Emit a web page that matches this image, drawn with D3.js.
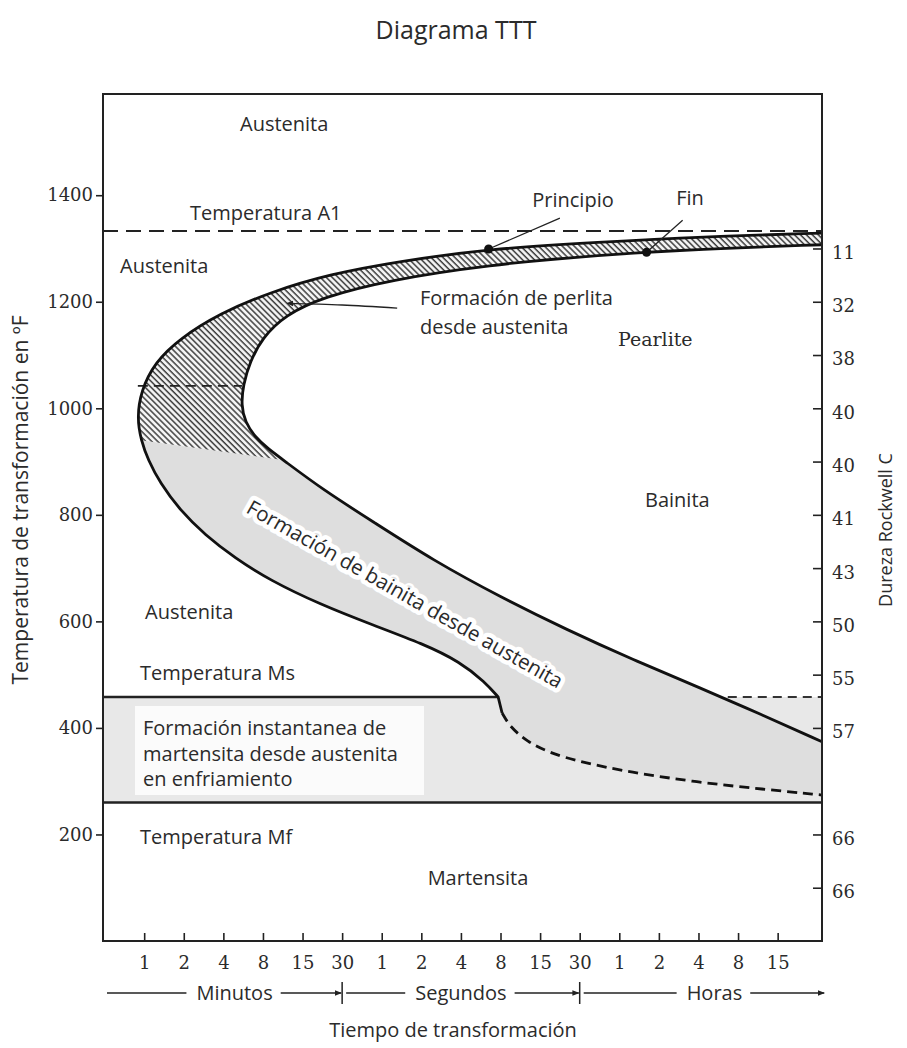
<!DOCTYPE html>
<html>
<head>
<meta charset="utf-8">
<script src="https://cdn.jsdelivr.net/npm/d3@7"></script>
<style>
  body { margin: 0; background: #fff; }
  text { fill: #2b2b2b; }
</style>
</head>
<body>
<svg id="chart" width="907" height="1048" font-family="'Open Sans', sans-serif"></svg>
<script>
// x is the step number along the time axis (ticks are evenly spaced), y is °F
const timeLabels = ["1","2","4","8","15","30","1","2","4","8","15","30","1","2","4","8","15"];
const tempTicks = [200, 400, 600, 800, 1000, 1200, 1400];
const hardTemps = [1300, 1200, 1100, 1000, 900, 800, 700, 600, 500, 400, 200, 100];
const hardLabels = ["11","32","38","40","40","41","43","50","55","57","66","66"];

const A1 = 1333, Ms = 458, Mf = 260, noseTemp = 1042;
// pearlite hatching stops along this edge (outer curve -> inner curve)
const hatchEdge = [[-0.08, 940], [3.51, 903]];

// start of transformation (outer curve), right end -> nose -> Ms
const startCurve = [
  [17.12, 1329], [14.04, 1322], [11.51, 1312], [8.66, 1299], [6.46, 1276],
  [4.69, 1252], [3.18, 1218], [1.91, 1178], [0.9, 1131], [0.27, 1086],
  [-0.08, 1033], [-0.18, 982], [-0.08, 940], [0.1, 903], [0.4, 860],
  [0.9, 809], [1.54, 762], [2.29, 719], [3.18, 677], [4.44, 632],
  [5.78, 593], [7.04, 558], [7.98, 524], [8.61, 486], [8.94, 458]
];
// continuation below Ms (dashed)
const startDashed = [
  [9.04, 428], [9.24, 402], [9.67, 374], [10.25, 353], [11.01, 336],
  [12.27, 317], [13.96, 298], [15.63, 285], [17.12, 274]
];
// end of transformation (inner curve)
const endCurve = [
  [17.12, 1307], [14.04, 1299], [11.51, 1288], [8.66, 1269], [6.21, 1241],
  [4.52, 1209], [3.56, 1175], [2.98, 1132], [2.67, 1087], [2.5, 1044],
  [2.45, 1006], [2.55, 974], [2.8, 946], [3.13, 924], [3.51, 903],
  [4.52, 847], [5.78, 787], [7.29, 715], [8.99, 646], [10.68, 584],
  [12.35, 528], [14.05, 475], [15.56, 426], [17.12, 374]
];

const principio = [8.7, 1299], principioTag = [10.5, 1357];
const fin = [12.69, 1293], finTag = [13.6, 1353];
const perlitaArrow = [[6.39, 1188], [5.0, 1194], [3.61, 1197]];

const units = [
  { name: "Minutos", from: -1.04, to: 5 },
  { name: "Segundos", from: 5, to: 11 },
  { name: "Horas", from: 11, to: 17.2 }
];

const serif = "'DejaVu Serif', serif";
const svg = d3.select("#chart");
const x = d3.scaleLinear().domain([-1.04, 17.12]).range([103, 822]);
const y = d3.scaleLinear().domain([0, 1590]).range([941, 94]);

const curve = d3.line().x(d => x(d[0])).y(d => y(d[1])).curve(d3.curveBasis);
const straight = d3.line().x(d => x(d[0])).y(d => y(d[1]));
const cont = p => curve(p).replace(/^M/, "L");

const defs = svg.append("defs");
defs.append("pattern")
  .attr("id", "hatch").attr("patternUnits", "userSpaceOnUse")
  .attr("width", 4.2).attr("height", 4.2)
  .attr("patternTransform", "rotate(-45)")
  .call(p => p.append("rect").attr("width", 4.2).attr("height", 4.2).attr("fill", "#f6f6f6"))
  .append("line").attr("x1", 1).attr("y1", 0).attr("x2", 1).attr("y2", 4.2)
  .attr("stroke", "#3c3c3c").attr("stroke-width", 1.5);
defs.append("marker")
  .attr("id", "arrow").attr("viewBox", "0 0 10 10")
  .attr("refX", 9).attr("refY", 5)
  .attr("markerWidth", 7).attr("markerHeight", 7)
  .attr("markerUnits", "userSpaceOnUse")
  .attr("orient", "auto")
  .append("path").attr("d", "M0,1 L10,5 L0,9 Z").attr("fill", "#222");

// clip for the hatching: everything above the hatch edge, extended across the plot
const [e0, e1] = hatchEdge.map(d => [x(d[0]), y(d[1])]);
const slope = (e1[1] - e0[1]) / (e1[0] - e0[0]);
defs.append("clipPath").attr("id", "hatchClip")
  .append("path")
  .attr("d", `M0,0 L907,0 L907,${e0[1] + slope * (907 - e0[0])} L0,${e0[1] - slope * e0[0]} Z`);

svg.append("rect").attr("width", 907).attr("height", 1048).attr("fill", "#fff");

// martensite band between Ms and Mf
svg.append("rect")
  .attr("x", x(-1.04)).attr("y", y(Ms))
  .attr("width", x(17.12) - x(-1.04)).attr("height", y(Mf) - y(Ms))
  .attr("fill", "#e8e8e8");
svg.append("rect")
  .attr("x", 135).attr("y", 706).attr("width", 289).attr("height", 89)
  .attr("fill", "#fbfbfb");

// transformation band: bainite fill, pearlite hatching on top
const band = curve(startCurve) + cont(startDashed) + cont(endCurve.slice().reverse()) + "Z";
svg.append("path").attr("d", band).attr("fill", "#dedede");
svg.append("path").attr("d", band).attr("fill", "url(#hatch)").attr("clip-path", "url(#hatchClip)");

// reference temperatures
svg.append("path").attr("d", straight([[-1.04, A1], [17.12, A1]]))
  .attr("stroke", "#222").attr("stroke-width", 2).attr("stroke-dasharray", "15,8").attr("fill", "none");
svg.append("path").attr("d", straight([[-0.16, noseTemp], [2.47, noseTemp]]))
  .attr("stroke", "#222").attr("stroke-width", 1.6).attr("stroke-dasharray", "10,6").attr("fill", "none");
svg.append("path").attr("d", straight([[-1.04, Ms], startCurve[startCurve.length - 1]]))
  .attr("stroke", "#222").attr("stroke-width", 2.5).attr("fill", "none");
svg.append("path").attr("d", straight([[14.74, Ms], [17.12, Ms]]))
  .attr("stroke", "#333").attr("stroke-width", 2).attr("stroke-dasharray", "9,6").attr("fill", "none");
svg.append("path").attr("d", straight([[-1.04, Mf], [17.12, Mf]]))
  .attr("stroke", "#222").attr("stroke-width", 2.5).attr("fill", "none");

// curves
svg.append("path")
  .attr("d", curve(startCurve) + "L" + x(startDashed[0][0]) + "," + y(startDashed[0][1]))
  .attr("stroke", "#111").attr("stroke-width", 2.8).attr("fill", "none");
svg.append("path").attr("d", curve(startDashed))
  .attr("stroke", "#111").attr("stroke-width", 2.8).attr("stroke-dasharray", "10,6").attr("fill", "none");
svg.append("path").attr("d", curve(endCurve))
  .attr("stroke", "#111").attr("stroke-width", 2.8).attr("fill", "none");

// Principio / Fin markers
[[principio, principioTag], [fin, finTag]].forEach(([p, t]) => {
  svg.append("path").attr("d", straight([p, t])).attr("stroke", "#222").attr("stroke-width", 1.3);
  svg.append("circle").attr("cx", x(p[0])).attr("cy", y(p[1])).attr("r", 4.5).attr("fill", "#111");
});
svg.append("path")
  .attr("d", d3.line().x(d => x(d[0])).y(d => y(d[1])).curve(d3.curveNatural)(perlitaArrow))
  .attr("stroke", "#222").attr("stroke-width", 1.4).attr("fill", "none")
  .attr("marker-end", "url(#arrow)");

// frame
svg.append("rect")
  .attr("x", x(-1.04)).attr("y", y(1590))
  .attr("width", x(17.12) - x(-1.04)).attr("height", y(0) - y(1590))
  .attr("fill", "none").attr("stroke", "#222").attr("stroke-width", 2);

// axes
const styleAxis = (g, size) => {
  g.attr("font-family", serif).attr("font-size", size);
  g.select(".domain").remove();
  g.selectAll("line").attr("stroke", "#222").attr("stroke-width", 1.6);
  g.selectAll("text").attr("fill", "#333");
};
svg.append("g").attr("transform", `translate(${x(-1.04)},0)`)
  .call(d3.axisLeft(y).tickValues(tempTicks).tickSize(7).tickPadding(3).tickFormat(d3.format("d")))
  .call(g => styleAxis(g, 18));
svg.append("g").attr("transform", `translate(${x(17.12)},0)`)
  .call(d3.axisRight(y).tickValues(hardTemps).tickSize(-9).tickPadding(10)
    .tickFormat((d, i) => hardLabels[i]))
  .call(g => styleAxis(g, 18))
  .call(g => g.selectAll("text").attr("dy", "0.55em"));
svg.append("g").attr("transform", `translate(0,${y(0)})`)
  .call(d3.axisBottom(x).tickValues(d3.range(timeLabels.length)).tickSize(-8).tickPadding(15)
    .tickFormat((d, i) => timeLabels[i]))
  .call(g => styleAxis(g, 18));

// unit row under the time axis
const rowY = 993;
units.forEach((u, i) => {
  const x0 = x(u.from), x1 = x(u.to), mid = (x0 + x1) / 2 + (i === 1 ? 0 : 12);
  const t = svg.append("text").attr("x", mid).attr("y", rowY + 7)
    .attr("text-anchor", "middle").attr("font-size", 20).text(u.name);
  const w = t.node().getComputedTextLength();
  svg.append("line").attr("x1", x0 + 4).attr("x2", mid - w / 2 - 10)
    .attr("y1", rowY).attr("y2", rowY).attr("stroke", "#222").attr("stroke-width", 1.5);
  svg.append("line").attr("x1", mid + w / 2 + 8).attr("x2", x1 - 1)
    .attr("y1", rowY).attr("y2", rowY).attr("stroke", "#222").attr("stroke-width", 1.5)
    .attr("marker-end", "url(#arrow)");
  if (i > 0) {
    svg.append("line").attr("x1", x0).attr("x2", x0).attr("y1", rowY - 11).attr("y2", rowY + 11)
      .attr("stroke", "#222").attr("stroke-width", 1.5);
  }
});

// region labels
const labels = [
  ["Austenita", 240, 131, "start"],
  ["Temperatura A1", 190, 220, "start"],
  ["Austenita", 120, 273, "start"],
  ["Principio", 573, 207, "middle"],
  ["Fin", 690, 205, "middle"],
  ["Formación de perlita", 420, 305, "start"],
  ["desde austenita", 420, 334, "start"],
  ["Bainita", 645, 507, "start"],
  ["Austenita", 145, 619, "start"],
  ["Temperatura Ms", 140, 680, "start"],
  ["Formación instantanea de", 143, 735, "start"],
  ["martensita desde austenita", 143, 761, "start"],
  ["en enfriamiento", 143, 786, "start"],
  ["Temperatura Mf", 140, 844, "start"],
  ["Martensita", 478, 885, "middle"]
];
svg.selectAll(".lbl").data(labels).enter().append("text")
  .attr("x", d => d[1]).attr("y", d => d[2]).attr("text-anchor", d => d[3])
  .attr("font-size", 20).text(d => d[0]);

svg.append("text").attr("x", 618).attr("y", 346)
  .attr("font-family", serif).attr("font-size", 19).text("Pearlite");

svg.append("text")
  .attr("transform", "translate(245,512) rotate(29.5)")
  .attr("font-size", 20.5)
  .attr("stroke", "#fff").attr("stroke-width", 9).attr("stroke-linejoin", "round")
  .attr("paint-order", "stroke")
  .text("Formación de bainita desde austenita");

// titles
svg.append("text").attr("x", 456).attr("y", 39).attr("text-anchor", "middle")
  .attr("font-size", 25).text("Diagrama TTT");
svg.append("text").attr("x", 453).attr("y", 1037).attr("text-anchor", "middle")
  .attr("font-size", 20).text("Tiempo de transformación");
svg.append("text").attr("transform", "translate(28,500) rotate(-90)").attr("text-anchor", "middle")
  .attr("font-size", 21).text("Temperatura de transformación en ºF");
svg.append("text").attr("transform", "translate(892,530) rotate(-90)").attr("text-anchor", "middle")
  .attr("font-size", 18).text("Dureza Rockwell C");
</script>
</body>
</html>
